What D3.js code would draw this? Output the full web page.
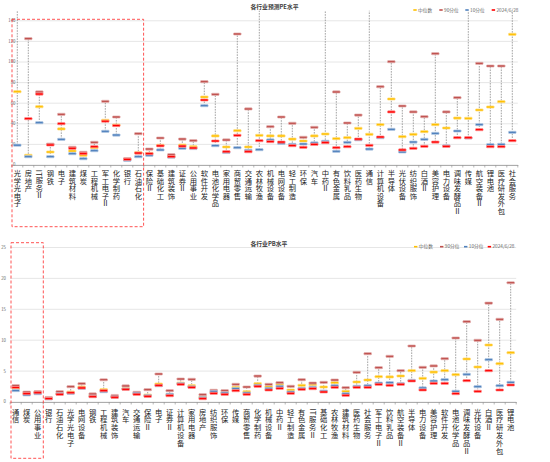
<!DOCTYPE html>
<html><head><meta charset="utf-8">
<script src="https://cdn.jsdelivr.net/npm/d3@7/dist/d3.min.js"></script>
<style>body{margin:0;background:#fff}svg{display:block}</style>
</head><body>
<svg id="chart" width="550" height="462"></svg>
<script>
// ---------- DATA ----------
const peCategories = ["光学光电子","房地产","IT服务Ⅱ","钢铁","电子","建筑材料","煤炭","工程机械","军工电子Ⅱ","化学制药","银行","石油石化","保险Ⅱ","基础化工","建筑装饰","证券Ⅱ","公用事业","软件开发","电池化学品","家用电器","商贸零售","交通运输","农林牧渔","机械设备","电网设备","轻工制造","环保","汽车","中药Ⅱ","有色金属","饮料乳品","医药生物","通信","计算机设备","半导体","光伏设备","纺织服饰","白酒Ⅱ","美容护理","电力设备","调味发酵品Ⅱ","传媒","航空装备Ⅱ","锂电池","医疗研发外包","社会服务"];
const peMedian = [71.2,9.4,56.6,12.6,35,13.6,9.4,16.8,43.4,38.8,5.6,12,11.3,19.1,8.4,19.4,17.8,66,28.2,17.5,33.3,17.5,28.8,28.2,28.2,25.2,23.3,28.2,30.1,25.6,26.5,35.6,29.8,39.2,64.1,27.5,29.8,32.4,39.2,35.9,45.6,45.3,53.4,56.3,61.5,126.9];
const peP90 = [200,122.7,70.9,20.3,49.2,17.2,12.3,22,61.8,46.6,6.2,30.4,15.5,26.2,10,25.2,23.6,80.9,68.6,24.3,127.2,54.4,170,37.2,46.6,40.5,26.9,36.6,160,70.9,40.8,48.5,165,76,100.3,57.3,51.5,46.9,108.1,51.5,65.4,175,98.7,96.1,96.1,190];
const peP10 = [19.2,8.1,41.1,8.1,24.9,11,6.1,13.9,32.7,29.1,4.5,8.1,9.4,14.6,7.6,16.2,16,57.6,18.8,12.2,16.8,14.2,14.9,24.3,21,20,20.4,21.4,23,13.3,22,24.5,15.5,26.5,34.6,12.6,22.3,24.9,30.7,18.5,33,26.2,39.2,19.7,20,31.7];
const peCurrent = [160,45,68.9,19.4,40.1,16.2,11,17.8,42.5,38.3,5.4,11.6,11,18.6,8.1,18.3,16.5,63.1,23.3,12.9,28.8,12.9,23.6,22.7,22.3,18.8,17.2,20,21.7,16.8,17.8,25.2,19.1,27.2,51.5,14.6,16.2,18.1,22.3,18.1,26.5,26.5,34.3,17.8,17.8,23.6];
const peTicks = [0,20,40,60,80,100,120,140];

const pbCategories = ["通信","煤炭","公用事业","银行","石油石化","光学光电子","电网设备","钢铁","工程机械","建筑装饰","汽车","交通运输","保险Ⅱ","电子","证券Ⅱ","计算机设备","家用电器","房地产","纺织服饰","环保","传媒","商贸零售","化学制药","机械设备","中药Ⅱ","轻工制造","有色金属","IT服务Ⅱ","基础化工","农林牧渔","建筑材料","医药生物","社会服务","军工电子Ⅱ","饮料乳品","航空装备Ⅱ","半导体","电力设备","美容护理","软件开发","电池化学品","调味发酵品Ⅱ","光伏设备","白酒Ⅱ","医疗研发外包","锂电池"];
const pbMedian = [2.2,1.4,1.56,0.62,1.35,1.62,2.43,1.02,2.0,0.85,2.2,1.35,1.13,2.91,1.19,3.07,2.64,0.81,1.56,1.51,2.37,1.67,2.97,2.48,2.86,1.94,2.7,2.8,2.43,3.13,1.73,3.24,3.56,4.1,4.05,4.21,5.07,3.83,4.85,5.07,4.42,6.96,5.66,9.22,6.2,7.98];
const pbP90 = [2.65,1.6,1.67,0.72,1.67,2.48,2.97,1.3,3.6,1.05,2.6,1.56,2.0,4.53,1.83,3.72,3.67,1.19,1.89,1.83,2.86,2.43,4.2,2.86,3.13,2.54,3.61,3.07,3.18,3.56,2.32,4.8,7.82,5.56,7.39,5.07,9.06,5.61,5.83,7.01,10.36,13.0,9.98,16.0,13.38,19.3];
const pbP10 = [1.85,1.15,1.35,0.5,1.3,1.4,2.2,0.92,1.67,0.8,2.1,1.4,1.02,2.64,1.24,2.97,2.45,0.7,1.67,1.46,2.16,1.46,2.7,2.21,2.54,1.62,2.2,2.37,1.78,2.64,1.35,2.54,2.64,3.07,3.13,2.97,3.5,2.27,3.4,3.61,1.73,4.48,2.48,6.85,2.64,3.18];
const pbCurrent = [2.35,1.35,1.5,0.55,1.24,1.5,2.27,0.86,1.83,0.76,2.05,1.24,0.92,2.7,1.02,2.86,2.37,0.54,1.4,1.24,1.83,1.24,2.54,1.94,2.21,1.4,2.05,2.16,1.62,2.37,1.08,2.37,2.37,2.86,2.7,2.86,3.4,1.94,3.02,3.02,1.35,3.45,1.73,5.07,1.94,2.75];
const pbTicks = [0,5,10,15,20,25];

const seriesNames = ["中位数","90分位","10分位","2024/6/28"];
const peTitle = "各行业预测PE水平";
const pbTitle = "各行业PB水平";

// ---------- STYLE ----------
const fills = ["#FFC000","#C0504D","#4F81BD","#FF0000"];
const strokes = ["#FFE08A","#E6B9B8","#B9CDE5","#FF9C9C"];
const FONT = "'Noto Sans CJK SC','Noto Sans',sans-serif";

const svg = d3.select("#chart");
svg.append("rect").attr("width",550).attr("height",462).attr("fill","#fff");

function drawPanel(o){
  const g = svg.append("g");
  const x = d3.scaleBand().domain(o.cats).range(o.xr).padding(0);
  const y = d3.scaleLinear().domain(o.yd).range(o.yr);
  const clipId = "clip"+o.id;
  svg.append("clipPath").attr("id",clipId).append("rect")
    .attr("x",o.xr[0]-6).attr("y",o.yr[1]).attr("width",o.xr[1]-o.xr[0]+12).attr("height",o.yr[0]-o.yr[1]+1);

  // gridlines
  g.selectAll(".grid").data(o.ticks).join("line")
    .attr("x1",o.xr[0]).attr("x2",o.xr[1])
    .attr("y1",d=>y(d)).attr("y2",d=>y(d))
    .attr("stroke","#e3e3e3").attr("stroke-width",0.9);
  // y tick labels
  g.selectAll(".yl").data(o.ticks).join("text")
    .attr("x",o.ylx).attr("y",d=>y(d)+1.4)
    .attr("text-anchor","end").attr("font-size",4.3).attr("fill","#666")
    .attr("font-family",FONT).text(d=>d);

  // x axis
  const ax = g.append("g").attr("transform",`translate(0,${o.yr[0]})`)
    .call(d3.axisBottom(x).tickSize(0).tickFormat(""));
  ax.select(".domain").attr("stroke","#9a9a9a").attr("stroke-width",0.8);
  const bounds = o.cats.map(c=>x(c)).concat([o.xr[1]]);
  g.selectAll(".xt").data(bounds).join("line")
    .attr("x1",d=>d).attr("x2",d=>d).attr("y1",o.yr[0]).attr("y2",o.yr[0]+2.5)
    .attr("stroke","#9a9a9a").attr("stroke-width",0.7);

  const data = o.cats.map((c,i)=>({c,v:[o.med[i],o.p90[i],o.p10[i],o.cur[i]]}));
  const pg = g.append("g").attr("clip-path",`url(#${clipId})`);
  // range lines
  pg.selectAll(".rl").data(data).join("line")
    .attr("x1",d=>x(d.c)+x.bandwidth()/2).attr("x2",d=>x(d.c)+x.bandwidth()/2)
    .attr("y1",d=>y(d3.min(d.v))).attr("y2",d=>Math.max(y(d3.max(d.v)),o.yr[1]))
    .attr("stroke","#8a8a8a").attr("stroke-width",0.8).attr("stroke-dasharray","1.6,1.1");
  // markers
  [0,1,2,3].forEach(k=>{
    pg.selectAll(".m"+k).data(data).join("rect")
      .attr("x",d=>x(d.c)+x.bandwidth()/2-3.8).attr("y",d=>y(d.v[k])-1.1)
      .attr("width",7.6).attr("height",2.2).attr("rx",0.6)
      .attr("fill",fills[k]).attr("stroke",strokes[k]).attr("stroke-width",0.7);
  });

  // x labels: vertical writing
  g.selectAll(".xl").data(data).join("text")
    .attr("x",d=>x(d.c)+x.bandwidth()/2).attr("y",o.labY)
    .attr("font-family",FONT).attr("font-size",7.3).attr("fill","#222")
    .style("writing-mode","vertical-rl").style("letter-spacing",o.labSp+"px")
    .text(d=>d.c);

  // title
  g.append("text").attr("x",250.5).attr("y",o.titleY).attr("font-family",FONT)
    .attr("font-size",5.8).attr("font-weight","bold").attr("fill","#404040").text(o.title);

  // legend
  const lx = o.legX;
  seriesNames.forEach((s,k)=>{
    g.append("rect").attr("x",lx[k]).attr("y",o.legY-0.8).attr("width",3.4).attr("height",1.6)
      .attr("fill",fills[k]);
    g.append("text").attr("x",lx[k]+4.8).attr("y",o.legY+1.6).attr("font-family",FONT)
      .attr("font-size",4.7).attr("fill","#666").text(s);
  });

  // red dashed highlight box
  g.append("rect").attr("x",o.box[0]).attr("y",o.box[1]).attr("width",o.box[2]-o.box[0]).attr("height",o.box[3]-o.box[1])
    .attr("fill","none").attr("stroke","#FF4040").attr("stroke-width",0.9).attr("stroke-dasharray","3,2");
}

drawPanel({id:"pe",cats:peCategories,med:peMedian,p90:peP90,p10:peP10,cur:peCurrent,
  ticks:peTicks,xr:[11.8,517.8],yd:[0,150],yr:[165,10.5],ylx:15.5,
  labY:169.8,labSp:0.2,title:peTitle,titleY:9,legY:10,legX:[413.3,439.3,465.3,491.7],
  box:[12,19.3,143.6,226.7]});

drawPanel({id:"pb",cats:pbCategories,med:pbMedian,p90:pbP90,p10:pbP10,cur:pbCurrent,
  ticks:pbTicks,xr:[10.2,516.2],yd:[0,25],yr:[402,247.5],ylx:6,
  labY:408.2,labSp:0.5,title:pbTitle,titleY:245.5,legY:246.7,legX:[414,440,464,487.7],
  box:[11,242.7,43.3,458.3]});
</script>
</body></html>
